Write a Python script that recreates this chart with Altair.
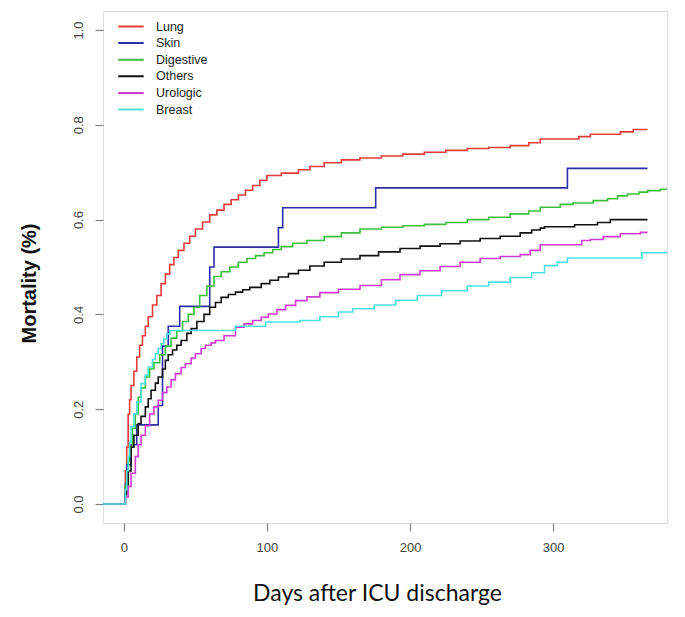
import altair as alt
import pandas as pd

groups = ["Lung", "Skin", "Digestive", "Others", "Urologic", "Breast"]
colors = ["#E23B3B", "#2E2EA8", "#3DBE3D", "#111111", "#D03CD0", "#4CE0E0"]

lung_days = [-15, 0, 1, 2, 3, 4, 5, 7, 9, 11, 13, 15, 17, 20, 23, 26, 29, 32, 35, 38, 42, 46, 50, 55, 60, 65, 70,
             75, 80, 85, 90, 95, 100, 110, 122, 130, 140, 152, 165, 180, 195, 210, 225, 240, 255, 270, 283, 291,
             318, 326, 347, 356, 366]
lung_vals = [0, 0, 0.07, 0.12, 0.19, 0.22, 0.25, 0.28, 0.31, 0.335, 0.355, 0.375, 0.395, 0.42, 0.44, 0.465, 0.485,
             0.505, 0.52, 0.535, 0.55, 0.565, 0.58, 0.595, 0.61, 0.62, 0.632, 0.642, 0.652, 0.662, 0.672, 0.683,
             0.693, 0.698, 0.705, 0.712, 0.72, 0.726, 0.73, 0.734, 0.738, 0.742, 0.746, 0.75, 0.752, 0.756, 0.762,
             0.77, 0.775, 0.78, 0.785, 0.79, 0.79]

skin_days = [-15, 0, 1, 2, 5, 9, 24, 27, 31, 39, 60, 63, 108, 111, 176, 310, 366]
skin_vals = [0, 0, 0.042, 0.083, 0.125, 0.167, 0.208, 0.333, 0.375, 0.417, 0.5, 0.542, 0.583, 0.625, 0.667,
             0.708, 0.708]

dig_days = [-15, 0, 1, 2, 3, 4, 6, 8, 10, 12, 15, 18, 21, 25, 29, 33, 37, 41, 45, 49, 53, 58, 63, 68, 74, 80, 86,
            92, 98, 104, 110, 118, 128, 140, 152, 165, 180, 195, 210, 225, 240, 255, 270, 283, 291, 305, 314, 328,
            338, 345, 352, 360, 366, 375, 385]
dig_vals = [0, 0, 0.04, 0.07, 0.09, 0.12, 0.16, 0.19, 0.225, 0.245, 0.268, 0.285, 0.298, 0.315, 0.333, 0.35, 0.365,
            0.385, 0.40, 0.415, 0.44, 0.46, 0.48, 0.49, 0.50, 0.51, 0.518, 0.524, 0.53, 0.537, 0.543, 0.55, 0.556,
            0.564, 0.572, 0.58, 0.584, 0.587, 0.59, 0.594, 0.6, 0.605, 0.612, 0.618, 0.626, 0.632, 0.635, 0.64,
            0.644, 0.65, 0.654, 0.658, 0.661, 0.664, 0.667]

oth_days = [-15, 0, 1, 2, 3, 5, 7, 10, 12, 15, 17, 19, 22, 24, 27, 29, 31, 34, 37, 40, 44, 47, 51, 56, 60, 64, 68,
            73, 78, 83, 88, 96, 102, 108, 115, 122, 130, 140, 152, 165, 178, 193, 207, 221, 235, 249, 263, 277, 285,
            291, 294, 315, 331, 340, 366]
oth_vals = [0, 0, 0.02, 0.04, 0.07, 0.12, 0.145, 0.17, 0.185, 0.205, 0.222, 0.24, 0.255, 0.268, 0.285, 0.303, 0.315,
            0.325, 0.335, 0.345, 0.36, 0.37, 0.385, 0.40, 0.415, 0.425, 0.436, 0.442, 0.447, 0.452, 0.457, 0.465,
            0.472, 0.479, 0.486, 0.493, 0.502, 0.51, 0.517, 0.524, 0.532, 0.539, 0.544, 0.549, 0.555, 0.56, 0.565,
            0.572, 0.578, 0.582, 0.585, 0.589, 0.594, 0.6, 0.6]

uro_days = [-15, 0, 1, 3, 5, 8, 10, 12, 15, 18, 21, 24, 27, 30, 33, 36, 40, 43, 47, 50, 54, 57, 61, 64, 70, 78, 84,
            90, 96, 101, 107, 113, 120, 128, 137, 150, 165, 180, 193, 207, 221, 235, 249, 263, 277, 284, 291, 320,
            326, 335, 347, 361, 366]
uro_vals = [0, 0, 0.015, 0.037, 0.065, 0.1, 0.125, 0.145, 0.165, 0.19, 0.205, 0.219, 0.235, 0.247, 0.262, 0.275,
            0.288, 0.296, 0.308, 0.317, 0.328, 0.335, 0.34, 0.345, 0.355, 0.373, 0.38, 0.387, 0.394, 0.401, 0.41,
            0.419, 0.429, 0.437, 0.446, 0.453, 0.461, 0.473, 0.484, 0.492, 0.501, 0.51, 0.518, 0.522, 0.526, 0.535,
            0.547, 0.556, 0.558, 0.564, 0.57, 0.573, 0.573]

bre_days = [-15, 0, 1, 2, 3, 4, 5, 7, 9, 12, 15, 17, 20, 22, 24, 26, 28, 30, 32, 78, 99, 123, 137, 150, 160, 175,
            190, 205, 222, 240, 255, 270, 285, 294, 303, 310, 362, 390]
bre_vals = [0, 0, 0.03, 0.07, 0.1, 0.13, 0.163, 0.19, 0.215, 0.254, 0.272, 0.289, 0.305, 0.317, 0.328, 0.338, 0.348,
            0.359, 0.366, 0.375, 0.384, 0.387, 0.395, 0.405, 0.412, 0.42, 0.43, 0.44, 0.45, 0.46, 0.468, 0.478,
            0.488, 0.503, 0.51, 0.519, 0.53, 0.53]

x_ticks = [0, 100, 200, 300]
y_ticks = [0.0, 0.2, 0.4, 0.6, 0.8, 1.0]

series = {
    "Lung": (lung_days, lung_vals),
    "Skin": (skin_days, skin_vals),
    "Digestive": (dig_days, dig_vals),
    "Others": (oth_days, oth_vals),
    "Urologic": (uro_days, uro_vals),
    "Breast": (bre_days, bre_vals),
}
rows = []
for g in groups:
    d, v = series[g]
    for a, b in zip(d, v):
        rows.append({"group": g, "day": a, "value": b})
df = pd.DataFrame(rows)

chart = alt.Chart(df).mark_line(interpolate="step-after", strokeWidth=1.6, clip=True).encode(
    x=alt.X("day:Q",
            scale=alt.Scale(domain=[-14.6, 379.6], nice=False, zero=False),
            axis=alt.Axis(values=x_ticks, title="Days after ICU discharge", grid=False, domain=False,
                          tickSize=8, tickColor="#808080", tickWidth=1.2, labelPadding=10,
                          labelFont="Liberation Sans", labelFontSize=13, labelColor="#444444",
                          titleFont="Lato", titleFontSize=23, titleFontWeight="normal", titleColor="#111111",
                          titleX=274, titleY=77, titleBaseline="alphabetic", titleAlign="center")),
    y=alt.Y("value:Q",
            scale=alt.Scale(domain=[-0.04, 1.04], nice=False, zero=False),
            axis=alt.Axis(values=y_ticks, format=".1f", title="Mortality (%)", grid=False, domain=False,
                          tickSize=8, tickColor="#808080", tickWidth=1.2, labelPadding=10,
                          labelAngle=270, labelAlign="center", labelBaseline="bottom",
                          labelFont="Liberation Sans", labelFontSize=13, labelColor="#444444",
                          titleFont="Liberation Sans", titleFontSize=20, titleFontWeight="bold",
                          titleColor="#111111", titleAngle=270, titleX=-74, titleY=272,
                          titleBaseline="middle", titleAlign="center")),
    color=alt.Color("group:N",
                    scale=alt.Scale(domain=groups, range=colors),
                    sort=groups,
                    legend=alt.Legend(title=None, orient="none", legendX=14, legendY=8,
                                      symbolType="stroke", symbolSize=650, symbolStrokeWidth=2,
                                      clipHeight=15, rowPadding=1.6, labelOffset=11, padding=0,
                                      labelFont="Liberation Sans", labelFontSize=12.5,
                                      labelColor="#222222")),
).properties(
    width=564,
    height=512,
    autosize=alt.AutoSizeParams(type="none"),
    padding={"left": 95, "top": 3, "right": 10, "bottom": 86},
).configure_view(
    stroke="#808080", strokeWidth=1.2
).configure(background="white")

chart.save("out.html", embed_options={"renderer": "svg", "actions": False})
